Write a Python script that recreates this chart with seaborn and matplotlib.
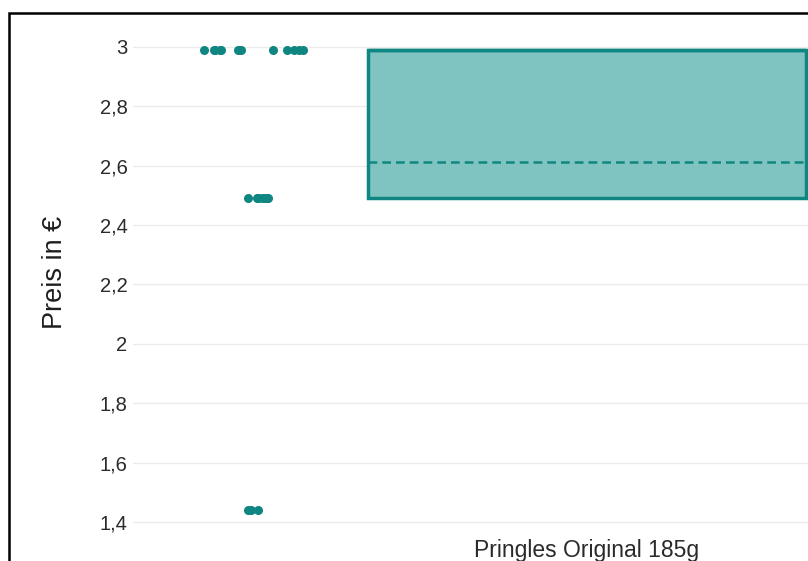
import numpy as np
import pandas as pd
import matplotlib
matplotlib.use("Agg")
import matplotlib.pyplot as plt
import matplotlib.transforms as mtransforms
from matplotlib.ticker import FuncFormatter
import seaborn as sns

# Daten: Preise eines Produkts
produkt = "Pringles Original 185g"
preise_hoch = [2.99] * 12
preise_mittel = [2.49] * 8
preise_tief = [1.44] * 3
yticks = [1.4, 1.6, 1.8, 2.0, 2.2, 2.4, 2.6, 2.8, 3.0]

preise = preise_hoch + preise_mittel + preise_tief
df = pd.DataFrame({"Produkt": [produkt] * len(preise), "Preis": preise})

teal = "#0f8681"
fuell = "#80c4c1"

sns.set_theme(style="white")
plt.rcParams["font.family"] = ["Liberation Sans", "DejaVu Sans"]

fig = plt.figure(figsize=(8.08, 5.61), dpi=100)
W, H = 808, 561
# Achse: links 133px, oben 20px, unten 535px, rechts ausserhalb des Bildes
ax = fig.add_axes([133 / W, (H - 535) / H, 908 / W, 515 / H])

sns.boxplot(data=df, x="Produkt", y="Preis", ax=ax, width=0.483,
            color=fuell, saturation=1, linecolor=teal, linewidth=2.5,
            showfliers=False, showmeans=True, meanline=True,
            meanprops=dict(color=teal, linestyle=(0, (3.5, 2)), linewidth=1.8),
            whiskerprops=dict(color=teal), capprops=dict(linewidth=0),
            zorder=2)

# Punkte links neben der Box (wie pointpos=-1.5)
np.random.seed(11)
streuung = {2.99: 0.062, 2.49: 0.012, 1.44: 0.012}
for wert, gruppe in df.groupby("Preis"):
    n_vor = len(ax.collections)
    sns.stripplot(data=gruppe, x="Produkt", y="Preis", ax=ax, color=teal,
                  size=6.5, jitter=streuung[round(wert, 2)], linewidth=0,
                  zorder=3)
    for coll in ax.collections[n_vor:]:
        coll.set_offset_transform(
            mtransforms.Affine2D().translate(-0.362, 0) + ax.transData)

ax.set_xlim(-0.5, 0.5)
ax.set_ylim(1.3562, 3.0909)
ax.set_yticks(yticks)
ax.yaxis.set_major_formatter(FuncFormatter(lambda v, p: f"{v:g}".replace(".", ",")))
ax.yaxis.grid(True, color="#ebebeb", linewidth=1)
ax.set_axisbelow(True)
for s in ax.spines.values():
    s.set_visible(False)
ax.tick_params(axis="y", length=0, labelsize=14.5, labelcolor="#2a2a2a", pad=4)
ax.tick_params(axis="x", length=0, labelsize=16.5, labelcolor="#2a2a2a", pad=3)
ax.set_xlabel("")
ax.set_ylabel("Preis in €", fontsize=19.5, color="#1e1e1e")
ax.yaxis.set_label_coords(-0.072, 0.51)

# Rahmen des Screenshots
rahmen = plt.Rectangle((9 / W, -0.5), 2.0, (1 - 12.5 / H) + 0.5, transform=fig.transFigure,
                       fill=False, edgecolor="black", linewidth=1.8, clip_on=False)
fig.add_artist(rahmen)

fig.savefig("out.png", dpi=100, facecolor="white")
